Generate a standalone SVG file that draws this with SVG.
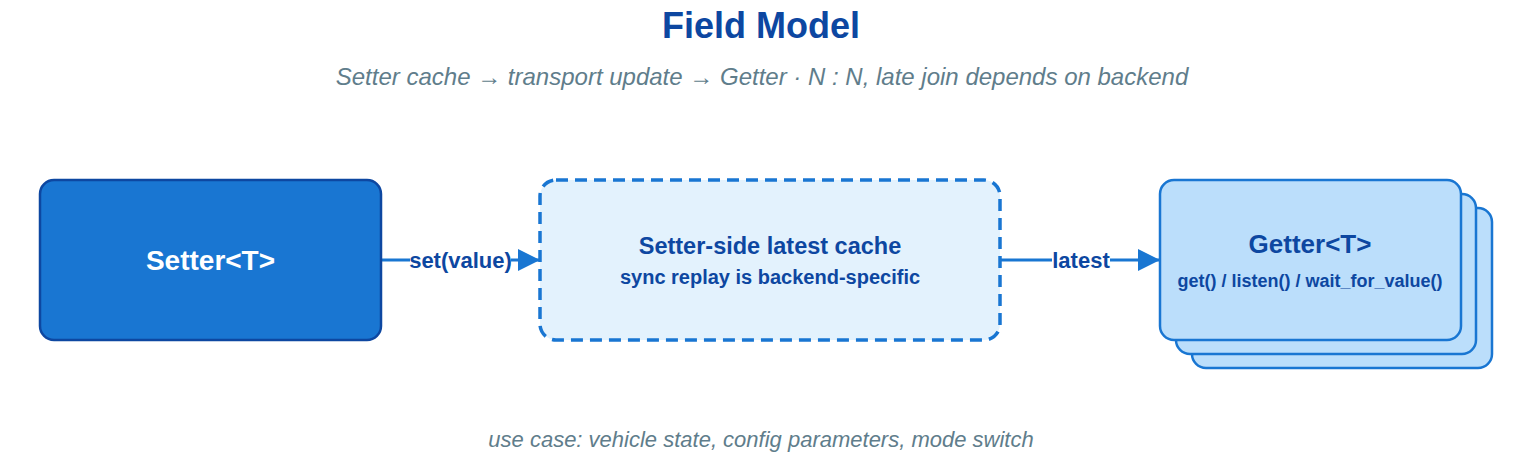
<svg xmlns="http://www.w3.org/2000/svg" width="1522" height="466" viewBox="0 0 1522 466">
<defs>
<style>
.t{font-family:"Liberation Sans",Arial,sans-serif;font-weight:bold;text-anchor:middle}
.i{font-family:"Liberation Sans",Arial,sans-serif;font-style:italic;text-anchor:middle;fill:#607d8b}
.g{fill:#bbdefb;stroke:#1976d2;stroke-width:2.5}
.c{stroke:#1976d2;stroke-width:3;fill:none}
.lb{font-family:"Liberation Sans",Arial,sans-serif;font-weight:bold;text-anchor:middle;fill:#0d47a1;font-size:22px}
</style>
<marker id="ah" markerWidth="24" markerHeight="22" refX="22" refY="11" orient="auto" markerUnits="userSpaceOnUse">
<path d="M0,0 L22,11 L0,22 Z" fill="#1976d2"/>
</marker>
</defs>
<rect width="1522" height="466" fill="#ffffff"/>
<text class="t" x="761" y="38" font-size="36" fill="#0d47a1">Field Model</text>
<text class="i" x="762" y="85" font-size="24">Setter cache → transport update → Getter · N : N, late join depends on backend</text>
<g id="connectors">
<path class="c" d="M381,260 L540,260" marker-end="url(#ah)"/>
<rect x="410" y="248" width="101" height="24" fill="#ffffff"/>
<text class="lb" x="460.5" y="268">set(value)</text>
<path class="c" d="M1000,260 L1160,260" marker-end="url(#ah)"/>
<rect x="1052" y="248" width="58" height="24" fill="#ffffff"/>
<text class="lb" x="1081" y="268">latest</text>
</g>
<g id="setter">
<rect x="40" y="180" width="341" height="160" rx="14" fill="#1976d2" stroke="#0d47a1" stroke-width="2.5"/>
<text class="t" x="210.5" y="270" font-size="28" fill="#ffffff">Setter&lt;T&gt;</text>
</g>
<g id="cache">
<rect x="540" y="180" width="460" height="160" rx="16" fill="#e3f2fd" stroke="#1976d2" stroke-width="3.5" stroke-dasharray="12,7"/>
<text class="t" x="770" y="254" font-size="23.5" fill="#0d47a1">Setter-side latest cache</text>
<text class="t" x="770" y="284" font-size="20" fill="#0d47a1">sync replay is backend-specific</text>
</g>
<g id="getter">
<rect class="g" x="1192" y="208" width="300" height="160" rx="14"/>
<rect class="g" x="1176" y="194" width="300" height="160" rx="14"/>
<rect class="g" x="1160" y="180" width="301" height="160" rx="14"/>
<text class="t" x="1310" y="253" font-size="26" fill="#0d47a1">Getter&lt;T&gt;</text>
<text class="t" x="1310" y="287" font-size="18" fill="#0d47a1">get() / listen() / wait_for_value()</text>
</g>
<text class="i" x="761" y="447" font-size="22">use case: vehicle state, config parameters, mode switch</text>
</svg>
